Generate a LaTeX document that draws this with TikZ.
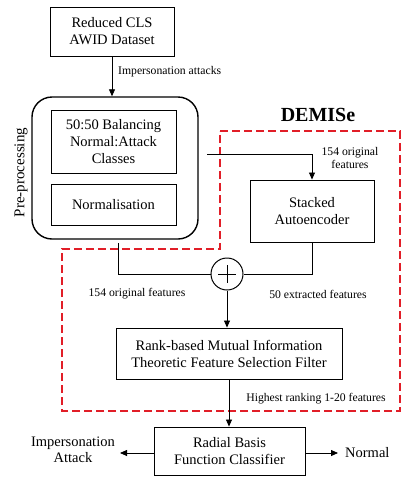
\documentclass[tikz,border=0pt]{standalone}
\usepackage{fontspec}
\setmainfont{Liberation Serif}
\usetikzlibrary{arrows.meta,calc}
\definecolor{demired}{RGB}{225,30,40}
\begin{document}
\begin{tikzpicture}[x=1pt,y=-1pt,
  box/.style={draw,line width=0.9pt,align=center,inner sep=0pt,font=\fontsize{14.5}{17}\selectfont},
  lbl/.style={inner sep=0pt,align=center,font=\fontsize{11.7}{13}\selectfont},
  big/.style={inner sep=0pt,align=center,font=\fontsize{14.5}{16.5}\selectfont},
  arr/.style={-{Triangle[length=7pt,width=6pt]},line width=0.8pt},
  ln/.style={line width=0.8pt}]
\useasboundingbox (0,0) rectangle (404,480);
% nodes
\node[box,minimum width=124pt,minimum height=49pt] (data) at (112,31.5) {Reduced CLS\\AWID Dataset};
\node[draw,line width=1.4pt,rounded corners=20pt,minimum width=166pt,minimum height=142pt,inner sep=0pt] (pre) at (115,168) {};
\node[box,minimum width=125pt,minimum height=63pt] (bal) at (113.5,141.5) {50:50 Balancing\\Normal:Attack\\Classes};
\node[box,minimum width=125pt,minimum height=41pt] (norm) at (113.5,204.5) {Normalisation};
\node[big,rotate=90,font=\fontsize{15}{17}\selectfont] (pretxt) at (21,172.5) {Pre-processing};
\node[box,minimum width=124pt,minimum height=62pt] (sae) at (312,211) {Stacked\\Autoencoder};
\node[draw,circle,line width=1pt,minimum size=32pt,inner sep=0pt] (plus) at (227,274) {};
\draw[line width=1pt] ($(plus.center)+(-9,0)$) -- ($(plus.center)+(9,0)$)
  ($(plus.center)+(0,-9)$) -- ($(plus.center)+(0,9)$);
\node[box,minimum width=226pt,minimum height=51pt] (filt) at (229,353.5) {Rank-based Mutual Information\\Theoretic Feature Selection Filter};
\node[box,minimum width=151pt,minimum height=48pt] (cls) at (229.5,451) {Radial Basis\\Function Classifier};
\node[big,anchor=east,inner sep=0pt] (ia) at (115,450) {Impersonation\\Attack};
\node[big,anchor=west,inner sep=0pt] (nrm) at (345,453) {Normal};
\node[inner sep=0pt,font=\fontsize{20}{22}\selectfont\bfseries] (demise) at (318,115) {DEMISe};
% red dashed region
\draw[demired,line width=1.3pt,dash pattern=on 8pt off 4pt]
  (220,131) -- (400,131) -- (400,411) -- (62,411) -- (62,249) -- (220,249) -- cycle;
% labels
\node[lbl,anchor=west] (l1) at (118,72) {Impersonation attacks};
\node[lbl] (l2) at (350,157.5) {154 original\\features};
\node[lbl] (l3) at (137,294) {154 original features};
\node[lbl] (l4) at (318,294) {50 extracted features};
\node[lbl] (l5) at (316,399) {Highest ranking 1-20 features};
% connectors
\coordinate (split) at (207,154);
\draw[arr] (data.south) -- (data.south |- pre.north);
\draw[arr] (split) -| (sae.north);
\draw[ln] (118,243) |- (plus.west);
\draw[ln] (sae.south) |- (plus.east);
\draw[arr] (plus.south) -- (plus.south |- filt.north);
\draw[arr] (filt.south) -- (filt.south |- cls.north);
\draw[arr] (cls.west |- 0,453) -- (120,453);
\draw[arr] (cls.east |- 0,453) -- (338,453);
\end{tikzpicture}
\end{document}
